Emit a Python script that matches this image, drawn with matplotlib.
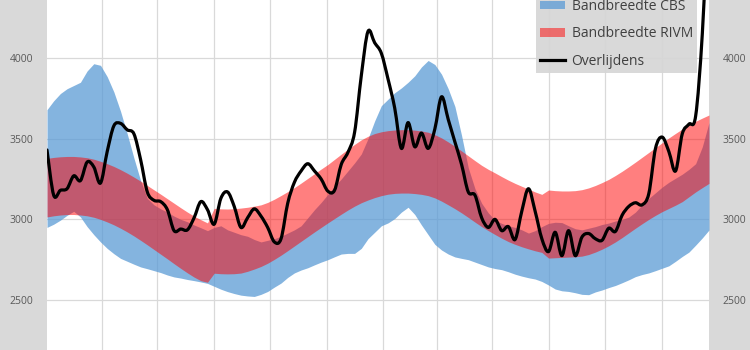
import numpy as np
import matplotlib
matplotlib.use('Agg')
import matplotlib.pyplot as plt
from matplotlib.patches import Patch, PathPatch
from matplotlib.path import Path
from matplotlib.lines import Line2D

plt.rcParams['font.family'] = ['Open Sans', 'DejaVu Sans']

# weekly values
overlijdens = [3430, 3150, 3180, 3190, 3270, 3240, 3355, 3325, 3225, 3420,
               3580, 3595, 3555, 3530, 3370, 3170, 3118, 3110, 3060, 2930,
               2940, 2935, 3010, 3110, 3060, 2970, 3130, 3170, 3080, 2950,
               3010, 3065, 3020, 2950, 2860, 2880, 3100, 3230, 3300, 3345,
               3300, 3250, 3175, 3180, 3340, 3415, 3540, 3890, 4165, 4095,
               4030, 3870, 3690, 3440, 3600, 3450, 3535, 3440, 3560, 3760,
               3620, 3480, 3340, 3170, 3150, 3010, 2950, 3000, 2930, 2955,
               2875, 3050, 3190, 3050, 2880, 2800, 2920, 2775, 2930, 2775,
               2890, 2912, 2880, 2870, 2945, 2925, 3025, 3080, 3103, 3090,
               3160, 3440, 3510, 3420, 3300, 3530, 3590, 3640, 4150, 4980]

cbs_hoog = [3680, 3735, 3780, 3810, 3830, 3850, 3920, 3965, 3955, 3885,
            3790, 3670, 3530, 3380, 3240, 3130, 3090, 3065, 3045, 3020,
            3000, 2985, 2965, 2948, 2930, 2950, 2960, 2935, 2920, 2905,
            2895, 2875, 2860, 2870, 2880, 2895, 2915, 2935, 2960, 3010,
            3060, 3105, 3155, 3205, 3250, 3300, 3350, 3405, 3500, 3610,
            3705, 3745, 3785, 3815, 3850, 3890, 3945, 3985, 3960, 3900,
            3810, 3700, 3520, 3320, 3190, 3100, 3040, 2995, 2975, 2960,
            2950, 2935, 2915, 2930, 2955, 2975, 2982, 2980, 2960, 2942,
            2935, 2945, 2955, 2968, 2977, 2990, 3000, 3014, 3045, 3090,
            3130, 3165, 3200, 3230, 3255, 3280, 3310, 3345, 3450, 3600]

cbs_laag = [2950, 2970, 2995, 3025, 3050, 3015, 2955, 2905, 2860, 2820,
            2787, 2758, 2740, 2722, 2705, 2694, 2682, 2670, 2655, 2643,
            2636, 2627, 2620, 2612, 2603, 2585, 2567, 2552, 2540, 2530,
            2525, 2522, 2535, 2553, 2580, 2605, 2640, 2668, 2686, 2700,
            2718, 2735, 2750, 2768, 2785, 2789, 2789, 2820, 2880, 2920,
            2960, 2978, 3005, 3045, 3075, 3030, 2965, 2905, 2845, 2810,
            2785, 2767, 2758, 2750, 2735, 2720, 2705, 2695, 2688, 2675,
            2660, 2648, 2638, 2630, 2615, 2593, 2568, 2557, 2553, 2545,
            2535, 2533, 2550, 2562, 2577, 2590, 2607, 2625, 2645, 2658,
            2668, 2682, 2697, 2712, 2740, 2770, 2797, 2840, 2885, 2934]

rivm_hoog = [3378, 3384, 3388, 3390, 3390, 3387, 3382, 3373, 3360, 3345,
             3328, 3308, 3286, 3262, 3237, 3210, 3183, 3156, 3128, 3100,
             3072, 3045, 3020, 2998, 2978, 3068, 3065, 3064, 3066, 3070,
             3075, 3082, 3090, 3105, 3125, 3148, 3172, 3197, 3225, 3254,
             3283, 3312, 3340, 3372, 3404, 3435, 3465, 3493, 3515, 3532,
             3543, 3550, 3554, 3556, 3556, 3553, 3548, 3540, 3525, 3505,
             3480, 3453, 3424, 3394, 3364, 3335, 3310, 3288, 3265, 3243,
             3223, 3205, 3188, 3170, 3155, 3182, 3178, 3176, 3176, 3178,
             3184, 3195, 3210, 3228, 3248, 3272, 3298, 3326, 3355, 3385,
             3415, 3445, 3475, 3505, 3533, 3560, 3585, 3608, 3628, 3647]

rivm_laag = [3015, 3022, 3027, 3030, 3030, 3027, 3022, 3013, 3000, 2984,
             2966, 2945, 2922, 2897, 2870, 2842, 2813, 2784, 2755, 2725,
             2696, 2668, 2642, 2620, 2610, 2666, 2663, 2662, 2663, 2667,
             2678, 2692, 2708, 2728, 2752, 2778, 2806, 2835, 2864, 2893,
             2922, 2950, 2978, 3005, 3032, 3058, 3082, 3103, 3120, 3135,
             3147, 3156, 3161, 3163, 3163, 3160, 3155, 3147, 3133, 3113,
             3090, 3066, 3040, 3012, 2983, 2955, 2930, 2906, 2883, 2862,
             2845, 2830, 2817, 2805, 2795, 2760, 2762, 2764, 2766, 2768,
             2772, 2782, 2797, 2815, 2836, 2860, 2887, 2916, 2945, 2973,
             3000, 3025, 3048, 3068, 3088, 3110, 3140, 3170, 3197, 3223]

y_ticks = [2500, 3000, 3500, 4000]
legend_labels = ['Bandbreedte CBS', 'Bandbreedte RIVM', 'Overlijdens']


def smooth_path(x, y):
    # excel-style smoothed line: bezier segments through the points
    x = np.asarray(x, float)
    y = np.asarray(y, float)
    n = len(x)
    verts = [(x[0], y[0])]
    codes = [Path.MOVETO]
    for i in range(n - 1):
        p0 = max(i - 1, 0)
        p3 = min(i + 2, n - 1)
        c1 = (x[i] + (x[i+1] - x[p0]) / 6, y[i] + (y[i+1] - y[p0]) / 6)
        c2 = (x[i+1] - (x[p3] - x[i]) / 6, y[i+1] - (y[p3] - y[i]) / 6)
        verts += [c1, c2, (x[i+1], y[i+1])]
        codes += [Path.CURVE4] * 3
    return Path(verts, codes)


weken = np.arange(len(overlijdens))

fig = plt.figure(figsize=(7.5, 3.5), dpi=100, facecolor='#d9d9d9')
ax = fig.add_axes([47/750, 0, 662/750, 1])
ax.set_facecolor('white')

ax.fill_between(weken, cbs_laag, cbs_hoog, color='#5b9bd5', alpha=0.75, lw=0)
ax.fill_between(weken, rivm_laag, rivm_hoog, color='red', alpha=0.5, lw=0)
lijn = PathPatch(smooth_path(weken, overlijdens), facecolor='none',
                 edgecolor='black', lw=2.3, joinstyle='round', capstyle='round')
ax.add_patch(lijn)

ax.set_xlim(0, len(overlijdens) - 1)
ax.set_ylim(2190, 4360)
ax.set_yticks(y_ticks)
ax.set_xticks([8.2, 16.5, 24.9, 33.4, 41.8, 50.2, 58.3, 66.6, 75.0, 83.5, 91.9])
ax.tick_params(axis='x', length=0, labelbottom=False)
ax.tick_params(axis='y', length=0, labelleft=True, labelright=True,
               labelsize=7.5, labelcolor='#595959', pad=10)
ax.grid(True, color='#d9d9d9', lw=0.9)
ax.set_axisbelow(True)
for s in ax.spines.values():
    s.set_visible(False)

handles = [Patch(facecolor='#5b9bd5', alpha=0.75, lw=0),
           Patch(facecolor='red', alpha=0.5, lw=0),
           Line2D([], [], color='black', lw=2.3)]
leg = ax.legend(handles, legend_labels, loc='lower right',
                bbox_to_anchor=(697/750, 1 - 73/350), bbox_transform=fig.transFigure,
                fontsize=10, frameon=True, fancybox=False, borderpad=0.3,
                labelspacing=0.9, handlelength=1.75, handleheight=0.6,
                handletextpad=0.5, borderaxespad=0)
leg.get_frame().set_facecolor('#d6d6d6')
leg.get_frame().set_edgecolor('none')
leg.get_frame().set_alpha(0.92)
for t in leg.get_texts():
    t.set_color('#404040')

fig.savefig('out.png', dpi=100, facecolor=fig.get_facecolor())
